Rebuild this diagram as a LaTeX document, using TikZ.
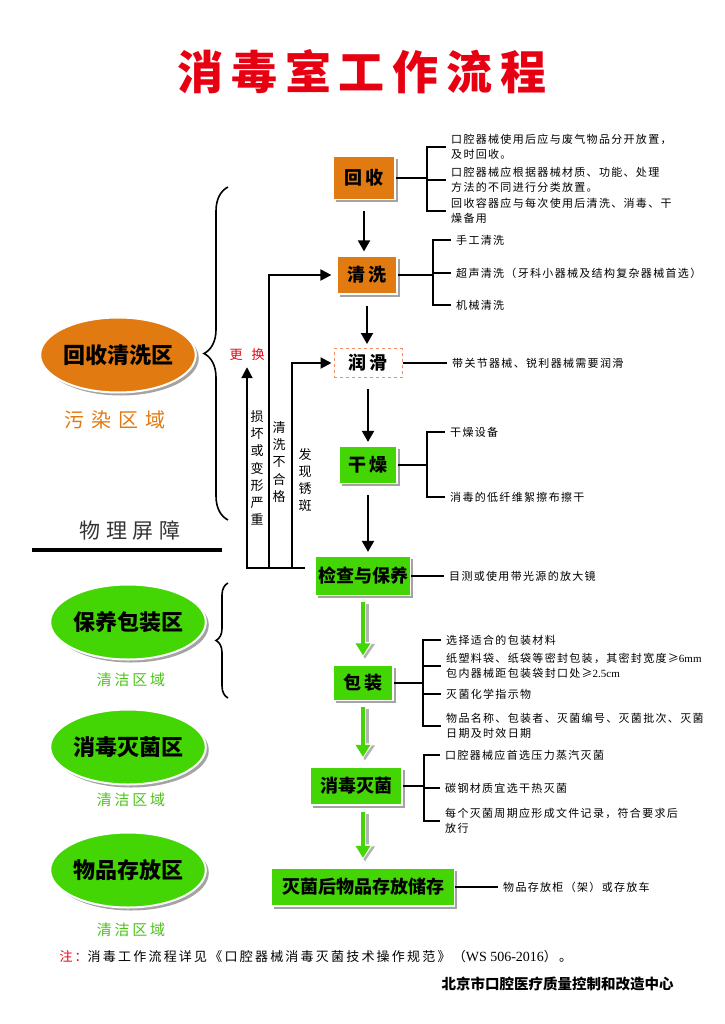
\documentclass[tikz,border=0pt]{standalone}
\usepackage{fontspec}
\setmainfont{Noto Sans CJK SC}
\newfontfamily\latinserif{Liberation Serif}
\usetikzlibrary{arrows.meta,shapes.geometric,shadows,decorations.pathreplacing}

\definecolor{dirtyorange}{RGB}{226,122,18}
\definecolor{cleangreen}{RGB}{68,214,4}
\definecolor{zonegreen}{RGB}{74,196,22}
\definecolor{titlered}{RGB}{230,0,18}
\definecolor{dashorange}{RGB}{242,140,100}

\begin{document}
\begin{tikzpicture}[x=1pt,y=-1pt,
    stepbox/.style={draw=white,line width=1.2pt,fill=cleangreen,minimum height=38pt,inner sep=0pt,
      font=\fontsize{18}{20}\selectfont\bfseries,
      drop shadow={shadow xshift=2.5pt,shadow yshift=-2.5pt,opacity=0.6,fill=black!60}},
    dirtybox/.style={stepbox,fill=dirtyorange},
    lubebox/.style={draw=dashorange,dashed,line width=1pt,fill=white,inner sep=0pt,
      font=\fontsize{18}{20}\selectfont\bfseries},
    zone/.style={ellipse,draw=white,line width=2pt,minimum width=148pt,minimum height=75pt,inner sep=0pt,
      font=\fontsize{22}{24}\selectfont\bfseries,
      drop shadow={shadow xshift=3pt,shadow yshift=-3pt,opacity=0.6,fill=black!60}},
    zonetag/.style={text=zonegreen,font=\fontsize{15}{17}\selectfont\addfontfeature{LetterSpace=18}},
    note/.style={anchor=west,inner xsep=5pt,inner ysep=1pt,align=left,
      font=\fontsize{11}{15.5}\selectfont\addfontfeature{LetterSpace=12}},
    tree/.style={line width=1.5pt},
    flow/.style={line width=2pt,-{Triangle[length=11pt,width=12pt]},shorten <=11pt,shorten >=4pt},
    fb/.style={line width=2pt,-{Triangle[length=11pt,width=11pt]}},
    gshade/.style={line width=7pt,black!30,-{Triangle[length=15pt,width=19pt]},
      transform canvas={xshift=2pt,yshift=-2pt},shorten <=6pt,shorten >=8pt},
    gedge/.style={line width=6.5pt,white,-{Triangle[length=15pt,width=19pt]},shorten <=6pt,shorten >=8pt},
    garrow/.style={line width=3.5pt,cleangreen,-{Triangle[length=12pt,width=14pt]},shorten <=6pt,shorten >=9.5pt},
    vtext/.style={align=center,inner sep=0pt,font=\fontsize{13}{17.2}\selectfont},
    brc/.style={line width=1.6pt,decorate}
  ]
  \useasboundingbox (0,0) rectangle (724,1024);

  \node[text=titlered,font=\fontsize{46}{50}\selectfont\bfseries\addfontfeature{LetterSpace=17}] (title) at (362,72) {消毒室工作流程};

  \node[dirtybox,minimum width=62pt,minimum height=43pt] (recycle) at (364,178) {回\,收};
  \node[dirtybox,minimum width=60pt] (wash) at (367,275) {清\,洗};
  \node[lubebox,minimum width=68pt,minimum height=29pt] (lube) at (368,363) {润\,滑};
  \node[stepbox,minimum width=58pt,minimum height=37pt] (dry) at (368,465) {干\,燥};
  \node[stepbox,minimum width=95pt,minimum height=39pt] (check) at (363,576) {检查与保养};
  \node[stepbox,minimum width=60pt,minimum height=35pt] (pack) at (363,683) {包\,装};
  \node[stepbox,minimum width=92pt] (steril) at (356,786) {消毒灭菌};
  \node[stepbox,minimum width=183pt] (store) at (363,887) {灭菌后物品存放储存};

  \draw[flow] (recycle.south) -- (recycle.south |- wash.north);
  \draw[flow] (wash.south) -- (wash.south |- lube.north);
  \draw[flow] (lube.south) -- (lube.south |- dry.north);
  \draw[flow] (dry.south) -- (dry.south |- check.north);
  \foreach \a/\b in {check/pack,pack/steril,steril/store}{
    \draw[gshade] (pack.center |- \a.south) -- (pack.center |- \b.north);
    \draw[gedge] (pack.center |- \a.south) -- (pack.center |- \b.north);
    \draw[garrow] (pack.center |- \a.south) -- (pack.center |- \b.north);
  }

  \node[note] (r1) at (446,147) {口腔器械使用后应与废气物品分开放置，\\及时回收。};
  \node[note] (r2) at (446,180) {口腔器械应根据器械材质、功能、处理\\方法的不同进行分类放置。};
  \node[note] (r3) at (446,211) {回收容器应与每次使用后清洗、消毒、干\\燥备用};
  \coordinate (rv) at (427,0);
  \draw[tree] (recycle.east) -- (recycle.east -| rv);
  \draw[tree] (r1.west) -- (r1.west -| rv) -- (r3.west -| rv) -- (r3.west);
  \draw[tree] (r2.west -| rv) -- (r2.west);

  \node[note] (w1) at (451,240) {手工清洗};
  \node[note] (w2) at (451,273) {超声清洗（牙科小器械及结构复杂器械首选）};
  \node[note] (w3) at (451,305) {机械清洗};
  \coordinate (wv) at (433,0);
  \draw[tree] (wash.east) -- (wash.east -| wv);
  \draw[tree] (w1.west) -- (w1.west -| wv) -- (w3.west -| wv) -- (w3.west);
  \draw[tree] (w2.west -| wv) -- (w2.west);

  \node[note] (l1) at (447,363) {带关节器械、锐利器械需要润滑};
  \draw[tree] (lube.east) -- (l1.west);

  \node[note] (d1) at (445,432) {干燥设备};
  \node[note] (d2) at (445,497) {消毒的低纤维絮擦布擦干};
  \coordinate (dv) at (427,0);
  \draw[tree] (dry.east) -- (dry.east -| dv);
  \draw[tree] (d1.west) -- (d1.west -| dv) -- (d2.west -| dv) -- (d2.west);

  \node[note] (c1) at (444,576) {目测或使用带光源的放大镜};
  \draw[tree] (check.east) -- (c1.west);

  \node[note] (p1) at (441,640) {选择适合的包装材料};
  \node[note] (p2) at (441,666) {纸塑料袋、纸袋等密封包装，其密封宽度≥{\latinserif 6mm}\\包内器械距包装袋封口处≥{\latinserif 2.5cm}};
  \node[note] (p3) at (441,694) {灭菌化学指示物};
  \node[note] (p4) at (441,726) {物品名称、包装者、灭菌编号、灭菌批次、灭菌\\日期及时效日期};
  \coordinate (pv) at (423,0);
  \draw[tree] (pack.east) -- (pack.east -| pv);
  \draw[tree] (p1.west) -- (p1.west -| pv) -- (p4.west -| pv) -- (p4.west);
  \draw[tree] (p2.west -| pv) -- (p2.west);
  \draw[tree] (p3.west -| pv) -- (p3.west);

  \node[note] (s1) at (440,755) {口腔器械应首选压力蒸汽灭菌};
  \node[note] (s2) at (440,788) {碳钢材质宜选干热灭菌};
  \node[note] (s3) at (440,821) {每个灭菌周期应形成文件记录，符合要求后\\放行};
  \coordinate (sv) at (424,0);
  \draw[tree] (steril.east) -- (steril.east -| sv);
  \draw[tree] (s1.west) -- (s1.west -| sv) -- (s3.west -| sv) -- (s3.west);
  \draw[tree] (s2.west -| sv) -- (s2.west);

  \node[note] (o1) at (498,887) {物品存放柜（架）或存放车};
  \draw[tree] (store.east) -- (o1.west);

  \coordinate (fbl) at (247,568);
  \coordinate (fbm) at (269,568);
  \coordinate (fbr) at (292,568);
  \node[text=titlered,inner sep=1pt,font=\fontsize{13}{15}\selectfont] (swap) at (247,355) {更\hspace{9pt}换};
  \draw[fb,shorten <=10pt,shorten >=5pt] (check.west |- fbl) -- (fbl) -- (swap.south);
  \draw[fb,shorten >=5pt] (fbm) |- (wash.west);
  \draw[fb,shorten >=2pt] (fbr) |- (lube.west);
  \node[vtext] (broken) at (257,468) {损\\坏\\或\\变\\形\\严\\重};
  \node[vtext] (unclean) at (279,462) {清\\洗\\不\\合\\格};
  \node[vtext] (rust) at (305,480) {发\\现\\锈\\斑};

  \draw[brc,decoration={brace,amplitude=24pt}] (228,520) -- (228,187);
  \draw[brc,decoration={brace,amplitude=12pt}] (228,698) -- (228,583);

  \node[zone,fill=dirtyorange] (dirtyzone) at (118,355) {回收清洗区};
  \node[text=dirtyorange,font=\fontsize{20}{22}\selectfont\addfontfeature{LetterSpace=35}] (dirtytag) at (115,420) {污染区域};
  \node[text=black!80,font=\fontsize{21}{23}\selectfont\addfontfeature{LetterSpace=28}] (barrier) at (130,530) {物理屏障};
  \draw[line width=4pt] (32,550) -- (222,550);

  \node[zone,fill=cleangreen] (packzone) at (128,622) {保养包装区};
  \node[zonetag] (packtag) at (131,680) {清洁区域};
  \node[zone,fill=cleangreen] (sterzone) at (128,747) {消毒灭菌区};
  \node[zonetag] (stertag) at (131,800) {清洁区域};
  \node[zone,fill=cleangreen] (storezone) at (128,870) {物品存放区};
  \node[zonetag] (storetag) at (131,930) {清洁区域};

  \node[anchor=west,font=\fontsize{13}{15}\selectfont\addfontfeature{LetterSpace=17}] (foot) at (56,957) {\textcolor{titlered}{注：}消毒工作流程详见《口腔器械消毒灭菌技术操作规范》（{\latinserif\fontsize{14}{15}\selectfont WS 506-2016}）。};
  \node[anchor=west,font=\fontsize{14.5}{16}\selectfont\bfseries] (org) at (438,984) {北京市口腔医疗质量控制和改造中心};
\end{tikzpicture}
\end{document}
